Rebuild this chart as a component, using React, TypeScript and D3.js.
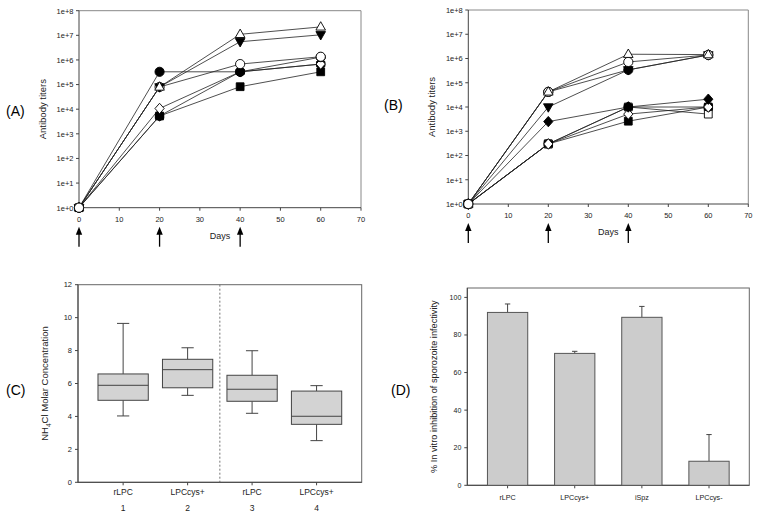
import React from "react";
import * as d3 from "d3";

const FONT = "'Liberation Sans', Arial, sans-serif";

// ---------- Panels A & B: antibody titers ----------
const days = [0, 20, 40, 60];
const immunizationDays = [0, 20, 40];
const dayTicks = [0, 10, 20, 30, 40, 50, 60, 70];
const titerTicks = [1, 1e1, 1e2, 1e3, 1e4, 1e5, 1e6, 1e7, 1e8];
const titerTickLabels = ["1e+0", "1e+1", "1e+2", "1e+3", "1e+4", "1e+5", "1e+6", "1e+7", "1e+8"];

// Panel A series
const aTriUpOpen = [1, 8e4, 1.1e7, 2.2e7];
const aTriDownFilled = [1, 8e4, 5.5e6, 1.05e7];
const aCircleFilled = [1, 3.3e5, 3.3e5, 1.3e6];
const aDiamondOpen = [1, 1.07e4, 3.3e5, 6.8e5];
const aSquareFilled = [1, 5.3e3, 8.2e4, 3.3e5];
const aHexFilled = [1, 5.3e3, 3.3e5, 6.8e5];
const aCircleOpen = [1, 8e4, 6.8e5, 1.35e6];

// Panel B series
const bTriUpOpen = [1, 4.2e4, 1.5e6, 1.45e6];
const bCircleFilled = [1, 4.2e4, 3.4e5, 1.4e6];
const bTriDownFilled = [1, 1.0e4, 3.4e5, 1.4e6];
const bDiamondFilled = [1, 2.5e3, 1.0e4, 2.1e4];
const bHexFilled = [1, 3.0e2, 1.0e4, 1.0e4];
const bSquareFilled = [1, 3.0e2, 2.6e3, 1.0e4];
const bSquareOpen = [1, 3.0e2, 1.0e4, 5.1e3];
const bDiamondOpen = [1, 3.0e2, 5.1e3, 1.0e4];
const bCircleOpen = [1, 4.2e4, 7.2e5, 1.4e6];

// ---------- Panel C: box plot ----------
const cCategories = ["rLPC", "LPCcys+", "rLPC", "LPCcys+"];
const cNumbers = ["1", "2", "3", "4"];
const cWhiskerHigh = [9.65, 8.17, 7.99, 5.87];
const cQ3 = [6.58, 7.47, 6.5, 5.54];
const cMedian = [5.89, 6.84, 5.65, 4.01];
const cQ1 = [4.98, 5.74, 4.92, 3.52];
const cWhiskerLow = [4.03, 5.28, 4.19, 2.53];
const cTicks = [0, 2, 4, 6, 8, 10, 12];

// ---------- Panel D: bar chart ----------
const dCategories = ["rLPC", "LPCcys+", "iSpz", "LPCcys-"];
const dValues = [92, 70.2, 89.4, 12.8];
const dErrors = [4.5, 1.1, 5.8, 14.2];
const dTicks = [0, 20, 40, 60, 80, 100];

type Mk = "triUp" | "triDown" | "circle" | "diamond" | "square" | "hex";

function markerPath(t: Mk): string {
  switch (t) {
    case "triUp":
      return "M0,-5.2L4.8,3.2L-4.8,3.2Z";
    case "triDown":
      return "M0,5.2L4.8,-3.2L-4.8,-3.2Z";
    case "diamond":
      return "M0,-5.2L4.6,0L0,5.2L-4.6,0Z";
    case "square":
      return "M-3.9,-3.9L3.9,-3.9L3.9,3.9L-3.9,3.9Z";
    case "hex": {
      const pts = d3.range(6).map((i) => {
        const a = (Math.PI / 3) * i + Math.PI / 6;
        return [4.9 * Math.cos(a), 4.9 * Math.sin(a)];
      });
      return "M" + pts.map((p) => p.join(",")).join("L") + "Z";
    }
  }
  return "";
}

function Marker({ t, filled, x, y }: { t: Mk; filled: boolean; x: number; y: number }) {
  const fill = filled ? "#000" : "#fff";
  if (t === "circle") {
    return <circle cx={x} cy={y} r={4.6} fill={fill} stroke="#000" strokeWidth={0.9} />;
  }
  return <path d={markerPath(t)} transform={`translate(${x},${y})`} fill={fill} stroke="#000" strokeWidth={0.9} />;
}

type Series = { t: Mk; filled: boolean; v: number[] };

function TiterPanel({
  x0, x1, y0, y1, series, label, labelX, labelY,
}: {
  x0: number; x1: number; y0: number; y1: number; series: Series[]; label: string; labelX: number; labelY: number;
}) {
  const x = d3.scaleLinear().domain([0, 70]).range([x0, x1]);
  const y = d3.scaleLog().domain([1, 1e8]).range([y0, y1]);
  const line = d3
    .line<[number, number]>()
    .x((d) => x(d[0]))
    .y((d) => y(d[1]));
  const mid = (y0 + y1) / 2;
  // Day-0 markers: open circle drawn last (on top)
  const day0Order = series
    .map((s, i) => i)
    .sort((a, b) => {
      const ka = series[a].t === "circle" && !series[a].filled ? 1 : 0;
      const kb = series[b].t === "circle" && !series[b].filled ? 1 : 0;
      return ka - kb;
    });
  return (
    <g>
      <text x={labelX} y={labelY} fontSize={14} fontFamily={FONT}>{label}</text>
      {/* frame */}
      <line x1={x0} y1={y1} x2={x1} y2={y1} stroke="#888" strokeWidth={1} />
      <line x1={x1} y1={y1} x2={x1} y2={y0} stroke="#888" strokeWidth={1} />
      <line x1={x0} y1={y0} x2={x1} y2={y0} stroke="#444" strokeWidth={1} />
      <line x1={x0} y1={y0} x2={x0} y2={y1} stroke="#444" strokeWidth={1} />
      {titerTicks.map((t, i) => (
        <g key={"yt" + i}>
          <line x1={x0 - 3} x2={x0} y1={y(t)} y2={y(t)} stroke="#444" />
          <text x={x0 - 5.5} y={y(t) + 2.8} fontSize={7.5} textAnchor="end" fontFamily={FONT} fill="#222">
            {titerTickLabels[i]}
          </text>
        </g>
      ))}
      {dayTicks.map((t) => (
        <g key={"xt" + t}>
          <line x1={x(t)} x2={x(t)} y1={y0} y2={y0 + 3} stroke="#444" />
          <text x={x(t)} y={y0 + 14} fontSize={7.5} textAnchor="middle" fontFamily={FONT} fill="#222">
            {t}
          </text>
        </g>
      ))}
      <text
        transform={`translate(${x0 - 33},${mid}) rotate(-90)`}
        fontSize={9.5}
        textAnchor="middle"
        fontFamily={FONT}
        fill="#222"
      >
        Antibody titers
      </text>
      <text x={(x0 + x1) / 2} y={y0 + 31} fontSize={9} textAnchor="middle" fontFamily={FONT} fill="#222">
        Days
      </text>
      {immunizationDays.map((d) => (
        <g key={"arr" + d}>
          <line x1={x(d)} x2={x(d)} y1={y0 + 26} y2={y0 + 39} stroke="#000" strokeWidth={1.3} />
          <path
            d={`M${x(d)},${y0 + 19}L${x(d) + 3.2},${y0 + 27}L${x(d) - 3.2},${y0 + 27}Z`}
            fill="#000"
          />
        </g>
      ))}
      {series.map((s, i) => (
        <path
          key={"l" + i}
          d={line(days.map((d, j) => [d, s.v[j]] as [number, number])) || ""}
          fill="none"
          stroke="#222"
          strokeWidth={0.8}
        />
      ))}
      {series.map((s, i) =>
        days.map((d, j) =>
          j === 0 ? null : (
            <Marker key={"m" + i + "-" + j} t={s.t} filled={s.filled} x={x(d)} y={y(s.v[j])} />
          )
        )
      )}
      {day0Order.map((i) => (
        <Marker key={"m0-" + i} t={series[i].t} filled={series[i].filled} x={x(days[0])} y={y(series[i].v[0])} />
      ))}
    </g>
  );
}

function BoxPanel() {
  const x0 = 78, x1 = 361.7, y0 = 482.3, y1 = 284.7;
  const x = d3.scaleLinear().domain([0.3, 4.7]).range([x0, x1]);
  const y = d3.scaleLinear().domain([0, 12]).range([y0, y1]);
  const hw = 0.39;
  const cap = 0.095;
  return (
    <g>
      <text x={6} y={395} fontSize={14} fontFamily={FONT}>(C)</text>
      <rect x={x0} y={y1} width={x1 - x0} height={y0 - y1} fill="none" stroke="#666" strokeWidth={1} />
      <line x1={x0} y1={y0} x2={x1} y2={y0} stroke="#444" />
      <line x1={x0} y1={y0} x2={x0} y2={y1} stroke="#444" />
      <line x1={x(2.5)} x2={x(2.5)} y1={y1} y2={y0} stroke="#666" strokeWidth={0.9} strokeDasharray="2,2" />
      {cTicks.map((t) => (
        <g key={"ct" + t}>
          <line x1={x0 - 3} x2={x0} y1={y(t)} y2={y(t)} stroke="#444" />
          <text x={x0 - 6} y={y(t) + 2.7} fontSize={7.5} textAnchor="end" fontFamily={FONT} fill="#222">{t}</text>
        </g>
      ))}
      <text transform={`translate(${x0 - 30},${(y0 + y1) / 2}) rotate(-90)`} fontSize={9.5} textAnchor="middle" fontFamily={FONT} fill="#222">
        NH<tspan fontSize={6.5} dy={2.5}>4</tspan><tspan dy={-2.5}>Cl Molar Concentration</tspan>
      </text>
      {cCategories.map((c, i) => {
        const cx = i + 1;
        return (
          <g key={"box" + i}>
            <line x1={x(cx)} x2={x(cx)} y1={y0} y2={y0 + 3} stroke="#444" />
            <text x={x(cx)} y={y0 + 13} fontSize={8.5} textAnchor="middle" fontFamily={FONT} fill="#222">{c}</text>
            <text x={x(cx)} y={y0 + 29} fontSize={8.5} textAnchor="middle" fontFamily={FONT} fill="#222">{cNumbers[i]}</text>
            <line x1={x(cx)} x2={x(cx)} y1={y(cWhiskerHigh[i])} y2={y(cQ3[i])} stroke="#444" />
            <line x1={x(cx)} x2={x(cx)} y1={y(cWhiskerLow[i])} y2={y(cQ1[i])} stroke="#444" />
            <line x1={x(cx - cap)} x2={x(cx + cap)} y1={y(cWhiskerHigh[i])} y2={y(cWhiskerHigh[i])} stroke="#444" />
            <line x1={x(cx - cap)} x2={x(cx + cap)} y1={y(cWhiskerLow[i])} y2={y(cWhiskerLow[i])} stroke="#444" />
            <rect x={x(cx - hw)} y={y(cQ3[i])} width={x(cx + hw) - x(cx - hw)} height={y(cQ1[i]) - y(cQ3[i])} fill="#d3d3d3" stroke="#444" strokeWidth={1} />
            <line x1={x(cx - hw)} x2={x(cx + hw)} y1={y(cMedian[i])} y2={y(cMedian[i])} stroke="#444" strokeWidth={1} />
          </g>
        );
      })}
    </g>
  );
}

function BarPanel() {
  const x0 = 467.3, x1 = 749.3, y0 = 485.3, y1 = 288;
  const x = d3.scaleLinear().domain([0.4, 4.6]).range([x0, x1]);
  const y = d3.scaleLinear().domain([0, 105]).range([y0, y1]);
  const hw = 0.3;
  const cap = 0.04;
  return (
    <g>
      <text x={391} y={395} fontSize={14} fontFamily={FONT}>(D)</text>
      <rect x={x0} y={y1} width={x1 - x0} height={y0 - y1} fill="none" stroke="#666" strokeWidth={1} />
      <line x1={x0} y1={y0} x2={x1} y2={y0} stroke="#444" />
      <line x1={x0} y1={y0} x2={x0} y2={y1} stroke="#444" />
      {dTicks.map((t) => (
        <g key={"dt" + t}>
          <line x1={x0 - 3} x2={x0} y1={y(t)} y2={y(t)} stroke="#444" />
          <text x={x0 - 6} y={y(t) + 2.5} fontSize={7} textAnchor="end" fontFamily={FONT} fill="#222">{t}</text>
        </g>
      ))}
      <text transform={`translate(${x0 - 30.5},${(y0 + y1) / 2}) rotate(-90)`} fontSize={9.2} textAnchor="middle" fontFamily={FONT} fill="#222">
        % In vitro inhibition of sporozoite infectivity
      </text>
      {dCategories.map((c, i) => {
        const cx = i + 1;
        return (
          <g key={"bar" + i}>
            <line x1={x(cx)} x2={x(cx)} y1={y0} y2={y0 + 3} stroke="#444" />
            <text x={x(cx)} y={y0 + 15} fontSize={7.2} textAnchor="middle" fontFamily={FONT} fill="#222">{c}</text>
            <line x1={x(cx)} x2={x(cx)} y1={y(dValues[i])} y2={y(dValues[i] + dErrors[i])} stroke="#444" />
            <line x1={x(cx - cap)} x2={x(cx + cap)} y1={y(dValues[i] + dErrors[i])} y2={y(dValues[i] + dErrors[i])} stroke="#444" />
            <rect x={x(cx - hw)} y={y(dValues[i])} width={x(cx + hw) - x(cx - hw)} height={y0 - y(dValues[i])} fill="#cccccc" stroke="#555" strokeWidth={1} />
          </g>
        );
      })}
    </g>
  );
}

export default function App() {
  const seriesA: Series[] = [
    { t: "square", filled: true, v: aSquareFilled },
    { t: "hex", filled: true, v: aHexFilled },
    { t: "diamond", filled: false, v: aDiamondOpen },
    { t: "circle", filled: true, v: aCircleFilled },
    { t: "circle", filled: false, v: aCircleOpen },
    { t: "triDown", filled: true, v: aTriDownFilled },
    { t: "triUp", filled: false, v: aTriUpOpen },
  ];
  const seriesB: Series[] = [
    { t: "square", filled: true, v: bSquareFilled },
    { t: "square", filled: false, v: bSquareOpen },
    { t: "hex", filled: true, v: bHexFilled },
    { t: "diamond", filled: false, v: bDiamondOpen },
    { t: "diamond", filled: true, v: bDiamondFilled },
    { t: "triDown", filled: true, v: bTriDownFilled },
    { t: "circle", filled: true, v: bCircleFilled },
    { t: "circle", filled: false, v: bCircleOpen },
    { t: "triUp", filled: false, v: bTriUpOpen },
  ];
  return (
    <svg width={757} height={515} style={{ position: "absolute", left: 0, top: 0, background: "#fff" }}>
      <rect width={757} height={515} fill="#fff" />
      <TiterPanel x0={79} x1={361} y0={207.7} y1={10.7} series={seriesA} label="(A)" labelX={6} labelY={116} />
      <TiterPanel x0={468.3} x1={748.3} y0={204} y1={10} series={seriesB} label="(B)" labelX={384} labelY={110} />
      <BoxPanel />
      <BarPanel />
    </svg>
  );
}
